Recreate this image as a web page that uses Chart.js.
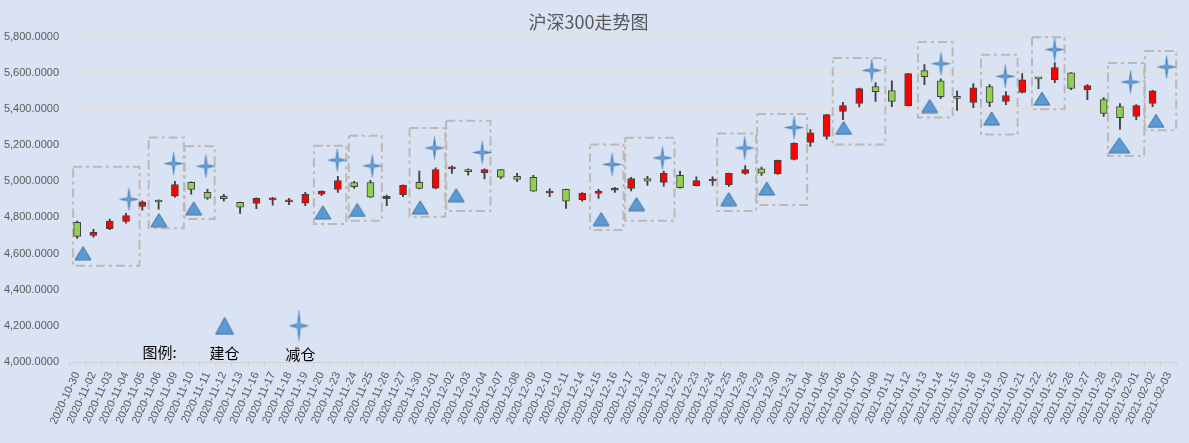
<!DOCTYPE html>
<html>
<head>
<meta charset="utf-8">
<script src="https://cdn.jsdelivr.net/npm/chart.js@4.4.1/dist/chart.umd.min.js"></script>
<style>
  html, body { margin: 0; padding: 0; background: #dae3f3; }
  #wrap { width: 1189px; height: 443px; }
</style>
</head>
<body>
<div id="wrap"><canvas id="kChart"></canvas></div>
<script>
// trading days
const dates = [
  '2020-10-30', '2020-11-02', '2020-11-03', '2020-11-04', '2020-11-05', '2020-11-06', '2020-11-09', '2020-11-10',
  '2020-11-11', '2020-11-12', '2020-11-13', '2020-11-16', '2020-11-17', '2020-11-18', '2020-11-19', '2020-11-20',
  '2020-11-23', '2020-11-24', '2020-11-25', '2020-11-26', '2020-11-27', '2020-11-30', '2020-12-01', '2020-12-02',
  '2020-12-03', '2020-12-04', '2020-12-07', '2020-12-08', '2020-12-09', '2020-12-10', '2020-12-11', '2020-12-14',
  '2020-12-15', '2020-12-16', '2020-12-17', '2020-12-18', '2020-12-21', '2020-12-22', '2020-12-23', '2020-12-24',
  '2020-12-25', '2020-12-28', '2020-12-29', '2020-12-30', '2020-12-31', '2021-01-04', '2021-01-05', '2021-01-06',
  '2021-01-07', '2021-01-08', '2021-01-11', '2021-01-12', '2021-01-13', '2021-01-14', '2021-01-15', '2021-01-18',
  '2021-01-19', '2021-01-20', '2021-01-21', '2021-01-22', '2021-01-25', '2021-01-26', '2021-01-27', '2021-01-28',
  '2021-01-29', '2021-02-01', '2021-02-02', '2021-02-03'
];

// OHLC
const openPx = [
  4772, 4700, 4738, 4777, 4860, 4895, 4917, 4994, 4938, 4916, 4883, 4877, 4897, 4886, 4878, 4928,
  4954, 4993, 4993, 4904, 4926, 4994, 4961, 5068, 5065, 5047, 5064, 5027, 5021, 4935, 4955, 4898,
  4933, 4950, 4960, 5015, 4994, 5032, 4976, 5001, 4981, 5043, 5068, 5040, 5120, 5215, 5248, 5386,
  5430, 5523, 5501, 5418, 5612, 5556, 5468, 5436, 5523, 5441, 5491, 5570, 5562, 5600, 5507, 5451,
  5413, 5358, 5430, null
];
const highPx = [
  4780, 4734, 4790, 4822, 4892, 4897, 5000, 4996, 4955, 4927, 4884, 4908, 4911, 4905, 4938, 4947,
  5027, 5000, 5005, 4923, 4980, 5056, 5074, 5085, 5068, 5068, 5066, 5043, 5032, 4958, 4957, 4937,
  4955, 4966, 5021, 5027, 5056, 5056, 5024, 5024, 5045, 5087, 5078, 5117, 5212, 5286, 5370, 5437,
  5515, 5545, 5556, 5597, 5645, 5567, 5499, 5540, 5534, 5496, 5595, 5571, 5656, 5601, 5534, 5462,
  5429, 5424, 5503, null
];
const lowPx = [
  4684, 4690, 4732, 4768, 4840, 4845, 4912, 4928, 4900, 4890, 4822, 4848, 4868, 4870, 4865, 4920,
  4938, 4960, 4910, 4865, 4914, 4958, 4958, 5043, 5033, 5013, 5014, 4997, 4944, 4914, 4850, 4889,
  4905, 4938, 4947, 4977, 4972, 4962, 4974, 4977, 4971, 5038, 5032, 5038, 5118, 5192, 5232, 5341,
  5411, 5441, 5413, 5416, 5534, 5457, 5391, 5407, 5413, 5424, 5488, 5512, 5545, 5507, 5451, 5358,
  5286, 5341, 5413, null
];
const closePx = [
  4695, 4717, 4780, 4810, 4885, 4885, 4982, 4954, 4906, 4904, 4856, 4905, 4899, 4888, 4927, 4945,
  5004, 4970, 4912, 4916, 4977, 4960, 5065, 5070, 5053, 5065, 5022, 5010, 4945, 4937, 4890, 4933,
  4945, 4952, 5015, 5000, 5044, 4965, 5004, 5003, 5043, 5065, 5044, 5115, 5210, 5268, 5368, 5418,
  5512, 5496, 5442, 5595, 5579, 5468, 5458, 5517, 5436, 5474, 5561, 5566, 5628, 5513, 5529, 5375,
  5352, 5418, 5500, null
];

// 建仓 / 减仓 markers (x in day-index units)
const buyX = [0.36, 5.02, 7.15, 15.08, 17.19, 21.05, 23.26, 32.16, 34.33, 39.99, 42.32, 47.04, 52.32, 56.12, 59.21, 63.96, 66.21];
const buyY = [4602, 4785, 4850, 4828, 4841, 4855, 4923, 4791, 4874, 4901, 4960, 5295, 5416, 5347, 5457, 5199, 5334];
const sellX = [3.18, 5.92, 7.9, 15.96, 18.11, 21.93, 24.86, 32.83, 35.92, 40.97, 44.0, 48.77, 53.02, 56.96, 59.99, 64.65, 66.86];
const sellY = [4900, 5098, 5083, 5117, 5085, 5184, 5159, 5093, 5129, 5184, 5297, 5613, 5650, 5580, 5728, 5549, 5632];

// dashed frames round each trade
const boxLeft = [-0.25, 4.39, 6.6, 14.53, 16.67, 20.4, 22.65, 31.48, 33.63, 39.28, 41.73, 46.37, 51.6, 55.47, 58.6, 63.26, 65.53];
const boxRight = [3.83, 6.55, 8.44, 16.52, 18.7, 22.59, 25.37, 33.53, 36.66, 41.67, 44.8, 49.6, 53.73, 57.72, 60.6, 65.49, 67.45];
const boxTop = [5080, 5242, 5194, 5196, 5251, 5295, 5334, 5203, 5240, 5264, 5372, 5681, 5770, 5700, 5797, 5654, 5720];
const boxBottom = [4533, 4740, 4791, 4763, 4781, 4804, 4835, 4730, 4781, 4835, 4868, 5203, 5352, 5258, 5398, 5139, 5282];

// legend
const legendText = ['图例:', '建仓', '减仓'];
const legendTextX = [5.06, 9.05, 13.7];
const legendTextY = [4055, 4047, 4040];
const legendBuy = { x: 9.05, y: 4200 };
const legendSell = { x: 13.61, y: 4200 };

const yMin = 4000, yMax = 5800, yStep = 200;

function makeStar(w, h) {
  const c = document.createElement('canvas');
  c.width = w + 2; c.height = h + 2;
  const g = c.getContext('2d');
  const cx = c.width / 2, cy = c.height / 2, rx = w / 2, ry = h / 2, k = 0.15;
  g.beginPath();
  g.moveTo(cx, cy - ry);
  g.lineTo(cx + rx * k, cy - ry * k);
  g.lineTo(cx + rx, cy);
  g.lineTo(cx + rx * k, cy + ry * k);
  g.lineTo(cx, cy + ry);
  g.lineTo(cx - rx * k, cy + ry * k);
  g.lineTo(cx - rx, cy);
  g.lineTo(cx - rx * k, cy - ry * k);
  g.closePath();
  const grad = g.createRadialGradient(cx, cy, 0, cx, cy, Math.max(rx, ry) * 0.6);
  grad.addColorStop(0, '#6aa7de');
  grad.addColorStop(1, '#3c76b3');
  g.fillStyle = grad;
  g.fill();
  g.lineWidth = 0.6;
  g.strokeStyle = '#5f8fc4';
  g.stroke();
  return c;
}

function makeTriangle(w, h) {
  const c = document.createElement('canvas');
  c.width = w + 2; c.height = h + 2;
  const g = c.getContext('2d');
  g.beginPath();
  g.moveTo(c.width / 2, 1);
  g.lineTo(w + 1, h + 1);
  g.lineTo(1, h + 1);
  g.closePath();
  g.fillStyle = '#5b9bd5';
  g.fill();
  g.lineWidth = 1;
  g.strokeStyle = '#41719c';
  g.stroke();
  return c;
}

const starIcon = makeStar(19, 23);
const starBig = makeStar(19, 31);
const triIcon = makeTriangle(16, 13);
const triBig = makeTriangle(21, 15);
const triLegend = makeTriangle(18, 17);

const isUp = i => closePx[i] >= openPx[i];

const boxPoints = [];
boxLeft.forEach((x0, k) => {
  const x1 = boxRight[k], t = boxTop[k], b = boxBottom[k];
  boxPoints.push({ x: x0, y: t }, { x: x1, y: t }, { x: x1, y: b }, { x: x0, y: b }, { x: x0, y: t }, { x: x0, y: null });
});

const legendLabels = {
  id: 'legendLabels',
  afterDatasetsDraw(chart) {
    const { ctx, scales } = chart;
    ctx.save();
    ctx.font = '15px "Noto Sans CJK SC", sans-serif';
    ctx.fillStyle = '#000000';
    ctx.textAlign = 'center';
    ctx.textBaseline = 'middle';
    legendText.forEach((t, k) => {
      ctx.fillText(t, scales.x2.getPixelForValue(legendTextX[k]), scales.y.getPixelForValue(legendTextY[k]));
    });
    ctx.restore();
  },
};

const ctx = document.getElementById('kChart').getContext('2d');
new Chart(ctx, {
  type: 'bar',
  data: {
    labels: dates,
    datasets: [
      {
        label: 'frames',
        type: 'line',
        xAxisID: 'x2',
        data: boxPoints,
        borderColor: '#bfb8b2',
        borderWidth: 2,
        borderDash: [9, 4, 3, 4],
        pointRadius: 0,
        fill: false,
        spanGaps: false,
        tension: 0,
        clip: 10,
        order: 5,
      },
      {
        label: 'wick',
        data: lowPx.map((l, i) => (l == null ? null : [l, highPx[i]])),
        backgroundColor: '#404040',
        borderWidth: 0,
        barThickness: 1.2,
        grouped: false,
        order: 4,
      },
      {
        label: 'body',
        data: openPx.map((o, i) => (o == null ? null : [o, closePx[i]])),
        backgroundColor: c => (isUp(c.dataIndex) ? '#ff0000' : '#92d050'),
        borderColor: '#404040',
        borderWidth: 1,
        borderSkipped: false,
        barThickness: 7,
        minBarLength: 2,
        grouped: false,
        order: 3,
      },
      {
        label: '建仓',
        type: 'scatter',
        xAxisID: 'x2',
        data: buyX.map((x, k) => ({ x, y: buyY[k] })),
        pointStyle: c => (c.dataIndex === 15 ? triBig : triIcon),
        order: 2,
      },
      {
        label: '减仓',
        type: 'scatter',
        xAxisID: 'x2',
        data: sellX.map((x, k) => ({ x, y: sellY[k] })),
        pointStyle: starIcon,
        order: 1,
      },
      {
        label: 'legend',
        type: 'scatter',
        xAxisID: 'x2',
        data: [legendBuy, legendSell],
        pointStyle: c => (c.dataIndex === 0 ? triLegend : starBig),
        clip: false,
        order: 0,
      },
    ],
  },
  options: {
    responsive: true,
    maintainAspectRatio: false,
    animation: false,
    layout: { padding: { left: 0, right: 12, top: 0, bottom: 0 } },
    plugins: {
      legend: { display: false },
      tooltip: { enabled: false },
      title: {
        display: true,
        text: '沪深300走势图',
        color: '#595959',
        font: { size: 18, family: '"Noto Sans CJK SC", sans-serif', weight: 'normal' },
        padding: { top: 11, bottom: 4 },
      },
    },
    scales: {
      x: {
        type: 'category',
        offset: true,
        grid: { display: true, drawOnChartArea: false, drawTicks: true, tickLength: 5, color: '#d4d0cb', offset: true },
        border: { display: true, color: '#d4d0cb' },
        ticks: {
          autoSkip: false,
          maxRotation: 65,
          minRotation: 65,
          padding: 3,
          color: '#595959',
          font: { size: 11, family: '"Liberation Sans", Arial, sans-serif' },
        },
        afterFit: s => { s.height = 81; },
      },
      x2: {
        type: 'linear',
        display: false,
        min: -0.5,
        max: dates.length - 0.5,
        offset: false,
      },
      y: {
        min: yMin,
        max: yMax,
        grid: { color: '#e2ddd7', drawTicks: false },
        border: { display: false },
        ticks: {
          stepSize: yStep,
          padding: 10,
          color: '#595959',
          font: { size: 11, family: '"Liberation Sans", Arial, sans-serif' },
          callback: v => v.toLocaleString('en-US', { minimumFractionDigits: 4, maximumFractionDigits: 4 }),
        },
        afterFit: s => { s.width = 69; },
      },
    },
  },
  plugins: [legendLabels],
});
</script>
</body>
</html>
